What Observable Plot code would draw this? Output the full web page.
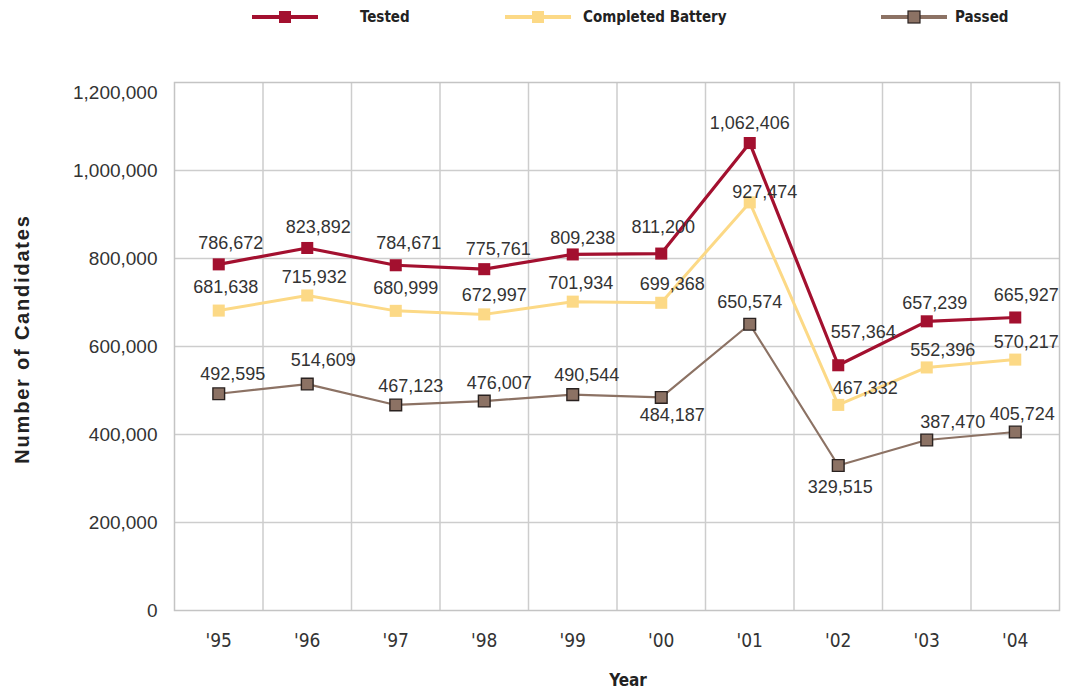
<!DOCTYPE html>
<html><head><meta charset="utf-8">
<script src="https://cdn.jsdelivr.net/npm/d3@7"></script>
<script src="https://cdn.jsdelivr.net/npm/@observablehq/plot@0.6"></script>
<style>
body{margin:0;background:#fff;font-family:"Liberation Sans",Arial,sans-serif;}
#legend{position:relative;width:1066px;height:34px;}
#legend svg{position:absolute;top:0;left:0;}
.lab{position:absolute;top:8px;font:bold 15px "Liberation Sans Narrow","DejaVu Sans Condensed",sans-serif;color:#222;white-space:nowrap;}
#wrap{position:relative;width:1066px;}
#ytitle{position:absolute;left:22px;top:305px;width:0;height:0;}
#ytitle span{position:absolute;left:0;top:0;transform:translate(-50%,-50%) rotate(-90deg);white-space:nowrap;
  font:bold 20px "Liberation Sans",Arial,sans-serif;letter-spacing:1.8px;color:#222;}
</style></head><body>
<div id="legend"></div>
<div id="wrap"><div id="chart"></div><div id="ytitle"><span>Number of Candidates</span></div></div>
<script>
// ---- data ----
const years = [1995, 1996, 1997, 1998, 1999, 2000, 2001, 2002, 2003, 2004];
const yearLabels = ["'95", "'96", "'97", "'98", "'99", "'00", "'01", "'02", "'03", "'04"];
const seriesNames = ["Tested", "Completed Battery", "Passed"];
const tested = [786672, 823892, 784671, 775761, 809238, 811200, 1062406, 557364, 657239, 665927];
const completed = [681638, 715932, 680999, 672997, 701934, 699368, 927474, 467332, 552396, 570217];
const passed = [492595, 514609, 467123, 476007, 490544, 484187, 650574, 329515, 387470, 405724];
const yTicks = [0, 200000, 400000, 600000, 800000, 1000000, 1200000];

// ---- styling ----
const colors = {"Tested": "#a3102f", "Completed Battery": "#fcd986", "Passed": "#8c7264"};
const lineWidth = {"Tested": 3.2, "Completed Battery": 3, "Passed": 2.2};
const labelNudge = {
  "Tested": [[12,-21],[11,-21],[13,-22],[14,-20],[10,-16],[2,-26],[0,-20],[25,-33],[8,-18],[11,-22]],
  "Completed Battery": [[7,-23],[7,-18],[10,-23],[10,-19],[8,-18],[11,-19],[15,-10],[27,-17],[16,-17],[11,-17]],
  "Passed": [[14,-20],[16,-24],[15,-19],[15,-18],[14,-19],[11,18],[0,-22],[2,22],[26,-18],[7,-18]]
};

const allSeries = [tested, completed, passed];
const rows = [];
allSeries.forEach((vals, s) => vals.forEach((v, i) => rows.push({series: seriesNames[s], year: years[i], value: v, i})));

// ---- legend ----
const legend = document.getElementById("legend");
const legendPos = [{line: 252, text: 360}, {line: 505, text: 583}, {line: 881, text: 955}];
let svgL = '<svg width="1066" height="34">';
seriesNames.forEach((name, k) => {
  const p = legendPos[k];
  const stroke = k === 2 ? ' stroke="#2a2220" stroke-width="1.2"' : '';
  svgL += `<line x1="${p.line}" x2="${p.line + 66}" y1="17" y2="17" stroke="${colors[name]}" stroke-width="4"/>`;
  svgL += `<rect x="${p.line + 27}" y="11" width="12" height="12" fill="${colors[name]}"${stroke}/>`;
});
svgL += '</svg>';
legend.innerHTML = svgL + seriesNames.map((n, k) => `<div class="lab" style="left:${legendPos[k].text}px">${n}</div>`).join("");

// ---- chart ----
const gridColor = "#cdcdcd";
const narrow = "'Liberation Sans Narrow','DejaVu Sans Condensed',sans-serif";
const marks = [
  Plot.ruleY(yTicks.slice(1, -1), {stroke: gridColor, strokeWidth: 1.5}),
  Plot.ruleX(years.slice(1).map(y => y - 0.5), {stroke: gridColor, strokeWidth: 1.5}),
  Plot.frame({stroke: "#c4c4c4", strokeWidth: 1.5}),
  // y tick labels
  Plot.text(yTicks.slice(0, -1), {y: d => d, frameAnchor: "left", dx: -17, textAnchor: "end",
    text: d => d3.format(",")(d), fontSize: 19, fill: "#333", style: "letter-spacing:3px"}),
  Plot.text(yTicks.slice(-1), {y: d => d, frameAnchor: "left", dx: -17, dy: 10, textAnchor: "end",
    text: d => d3.format(",")(d), fontSize: 19, fill: "#333", style: "letter-spacing:3px"}),
  // x tick labels
  Plot.text(years, {x: d => d, frameAnchor: "bottom", dy: 36, text: (d, i) => yearLabels[i],
    fontSize: 19, fill: "#333", fontFamily: narrow}),
  // x axis title
  Plot.text(["Year"], {frameAnchor: "bottom", dx: 11, dy: 75, text: d => d, fontSize: 17, fontWeight: "bold",
    fill: "#222", fontFamily: narrow})
];
["Passed", "Completed Battery", "Tested"].forEach(name => {
  const data = rows.filter(r => r.series === name);
  marks.push(Plot.line(data, {x: "year", y: "value", stroke: colors[name], strokeWidth: lineWidth[name]}));
  marks.push(Plot.dot(data, {x: "year", y: "value", symbol: "square", r: name === "Passed" ? 6.6 : 6.8,
    fill: colors[name], stroke: name === "Passed" ? "#2a2220" : "none", strokeWidth: 1.4}));
});
rows.forEach(r => {
  const [dx, dy] = labelNudge[r.series][r.i];
  marks.push(Plot.text([r], {x: "year", y: "value", text: d => d3.format(",")(d.value), dx, dy,
    fontSize: 18, fill: "#333", style: "letter-spacing:1.4px"}));
});

const chart = Plot.plot({
  width: 1066,
  height: 664,
  marginTop: 48,
  marginBottom: 88,
  marginLeft: 174,
  marginRight: 7,
  x: {type: "linear", domain: [1994.5, 2004.5], axis: null},
  y: {domain: [0, 1200000], axis: null},
  style: {fontFamily: "'Liberation Sans', Arial, sans-serif", background: "#fff"},
  marks
});
document.getElementById("chart").appendChild(chart);
</script>
</body></html>
